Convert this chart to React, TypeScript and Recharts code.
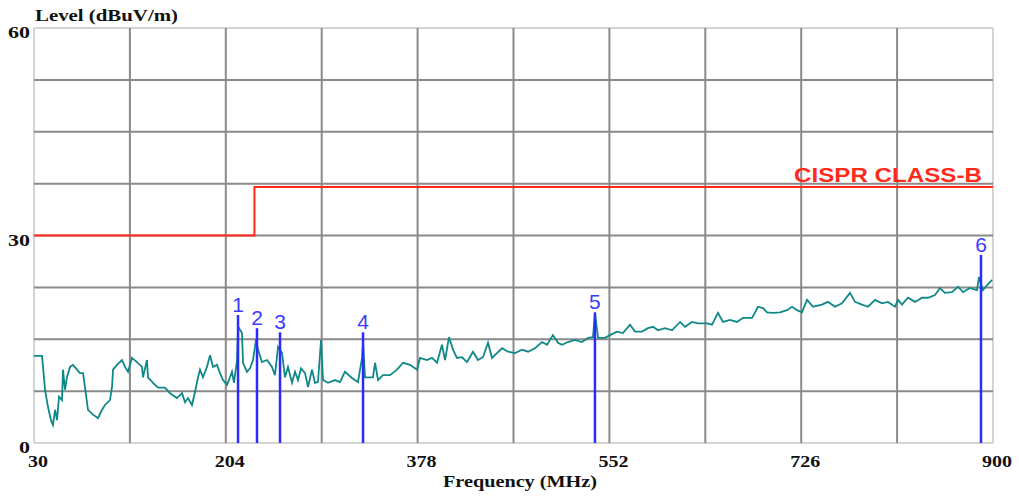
import React from "react"
import { LineChart, Line, XAxis, YAxis, ReferenceLine } from "recharts"

// measured trace (MHz, dBuV/m)
const noiseFreq = [
  30, 37.3, 40, 42.7, 45.4, 47.2, 49.1, 50.9, 52.7, 55.4, 56.3, 58.1, 59.9, 62.7, 65.4, 69, 71.7, 74.5, 76.3, 79,
  83.5, 88.1, 91.7, 94.4, 98.9, 100.8, 101.7, 105.3, 109.8, 112.6, 115.3, 118.9, 123.4, 128, 128.9, 132.5, 133.4, 138, 142.5, 148.8,
  153.4, 159.7, 164.3, 167, 169.7, 173.3, 176.1, 178.8, 180.6, 183.3, 186.9, 189.7, 192.4, 196, 198.7, 201.5, 205.1, 207.8, 209.6, 211.4,
  214.2, 215.1, 218.7, 219.6, 223.2, 226, 228.7, 231.4, 233.2, 236.8, 241.4, 245.9, 248.6, 251.4, 255, 257.7, 260.4, 264.1, 266.8, 269.5,
  272.2, 275.9, 278.6, 282.2, 284.9, 287.6, 290.4, 292.2, 296.7, 303.1, 307.6, 312.1, 318.5, 323.9, 327.6, 328.5, 330.3, 337.5, 339.4, 342.1,
  346.6, 353, 359.3, 364.8, 371.1, 377.5, 380.2, 386.5, 391.1, 395.6, 400.1, 402.9, 406.5, 410.1, 413.7, 418.3, 422.8, 428.3, 432.8, 437.3,
  441.9, 445.5, 450, 454.6, 460, 466.4, 472.7, 478.2, 484.5, 490.9, 495.4, 500.8, 505.4, 509, 514.4, 520.8, 527.1, 532.6, 537.1, 538.9,
  541.7, 548, 552.5, 558.9, 564.3, 570.7, 575.2, 581.5, 587, 591.6, 596.1, 602.4, 608.8, 616.1, 620.6, 627, 632.4, 640.5, 645.1, 650.5,
  655.1, 661.4, 667.8, 673.2, 681.4, 686.8, 691.4, 695, 700.4, 706.8, 713.1, 717.7, 722.2, 726.7, 731.3, 736.7, 744.9, 750.3, 756.7, 763,
  770.3, 774.8, 781.2, 786.6, 793, 799.3, 804.7, 811.1, 813.8, 817.4, 822.9, 829.3, 835.6, 841, 847.4, 851.9, 856.4, 862.8, 868.3, 872.8,
  879.1, 885.5, 887.3, 890.9, 894.5, 899.1,
]
const noiseLevel = [
  12.6, 12.6, 7.7, 5.2, 3.3, 2.6, 4.8, 3.3, 6.7, 6.2, 10.6, 7.7, 9.5, 11.0, 11.3, 10.6, 10.1, 10.1, 8.0, 4.8,
  4.1, 3.6, 4.8, 5.5, 6.2, 8.1, 10.6, 11.3, 12.0, 11.0, 10.3, 12.3, 11.7, 11.0, 9.5, 12.0, 9.5, 8.7, 8.0, 8.0,
  7.2, 6.5, 7.2, 5.9, 6.5, 5.5, 7.4, 9.5, 10.6, 9.5, 11.0, 12.7, 11.0, 11.3, 10.1, 9.1, 8.4, 9.5, 10.3, 8.7,
  12.0, 16.8, 15.9, 11.6, 10.3, 10.8, 12.0, 14.9, 13.5, 11.7, 12.0, 11.0, 9.8, 13.9, 13.0, 9.5, 11.0, 8.7, 10.3, 9.1,
  10.8, 10.1, 8.1, 10.6, 8.7, 8.8, 14.9, 9.1, 8.7, 9.1, 8.8, 10.3, 9.4, 8.8, 12.3, 14.5, 9.5, 9.5, 11.6, 9.1,
  9.8, 9.8, 10.6, 11.6, 11.3, 10.6, 12.3, 12.0, 12.3, 11.6, 14.2, 12.0, 15.3, 13.5, 12.3, 12.4, 11.7, 13.2, 12.0, 12.4,
  14.5, 12.3, 13.0, 13.7, 13.2, 13.0, 13.5, 13.2, 13.7, 14.6, 14.2, 15.6, 14.5, 14.2, 14.6, 14.9, 14.6, 15.2, 15.3, 18.8,
  15.2, 15.2, 15.6, 16.1, 15.9, 17.1, 16.1, 16.1, 16.6, 16.8, 16.3, 16.6, 16.3, 17.5, 16.8, 17.5, 17.3, 17.3, 17.1, 18.8,
  17.5, 17.8, 17.5, 18.1, 18.1, 19.7, 19.5, 18.9, 18.8, 18.9, 19.2, 19.7, 19.2, 18.9, 20.7, 19.7, 20.0, 20.4, 19.7, 20.2,
  21.7, 20.4, 20.0, 19.7, 20.7, 20.2, 20.4, 19.7, 20.7, 20.0, 21.0, 20.4, 21.0, 21.0, 21.4, 22.4, 21.7, 21.8, 22.6, 21.8,
  22.4, 22.1, 24.0, 22.1, 22.8, 23.6,
]

const limitFreq = [30, 230, 230, 900]
const limitLevel = [30, 30, 37, 37]

const markerFreq = [215.1, 232.3, 253.2, 328.5, 538.9, 889.1]
const markerLevel = [18.5, 16.6, 16.0, 16.0, 18.9, 27.2]

const xTicks = [30, 117, 204, 291, 378, 465, 552, 639, 726, 813, 900]
const xLabels = [30, 204, 378, 552, 726, 900]
const yTicks = [0, 7.5, 15, 22.5, 30, 37.5, 45, 52.5, 60]
const yLabels = [0, 30, 60]

const noiseData = noiseFreq.map((f, i) => ({ f, v: noiseLevel[i] }))
const limitData = limitFreq.map((f, i) => ({ f, v: limitLevel[i] }))

const serif = "'Liberation Serif', 'Times New Roman', serif"
const sans = "'Liberation Sans', Arial, sans-serif"

function XTick({ x, y, payload }: any) {
  if (!xLabels.includes(payload.value)) return <g />
  const s = String(payload.value)
  return (
    <text x={x + 4} y={y + 24} textAnchor="middle" fontFamily={serif} fontWeight="bold" fontSize={16}
      fill="#111" textLength={s.length * 10} lengthAdjust="spacingAndGlyphs">{s}</text>
  )
}

function YTick({ x, y, payload }: any) {
  if (!yLabels.includes(payload.value)) return <g />
  const s = String(payload.value)
  return (
    <text x={x - 4} y={y + 10} textAnchor="end" fontFamily={serif} fontWeight="bold" fontSize={16}
      fill="#111" textLength={s.length * 11} lengthAdjust="spacingAndGlyphs">{s}</text>
  )
}

export default function App() {
  return (
    <div style={{ width: 1019, height: 497, background: "#fff" }}>
      <style>{`body{margin:0}`}</style>
      <LineChart width={1019} height={497} margin={{ top: 28, right: 26, left: 0, bottom: 0 }}>
        <XAxis
          dataKey="f"
          type="number"
          domain={[30, 900]}
          ticks={xTicks}
          interval={0}
          tick={<XTick />}
          tickLine={false}
          axisLine={false}
          tickSize={0}
          tickMargin={0}
          height={54}
          allowDataOverflow
          label={{
            content: () => (
              <text x={520} y={487} textAnchor="middle" fontFamily={serif} fontWeight="bold" fontSize={16}
                fill="#111" textLength={154} lengthAdjust="spacingAndGlyphs">Frequency (MHz)</text>
            ),
          }}
        />
        <YAxis
          dataKey="v"
          type="number"
          domain={[0, 60]}
          ticks={yTicks}
          interval={0}
          tick={<YTick />}
          tickLine={false}
          axisLine={false}
          tickSize={0}
          tickMargin={0}
          width={34}
          allowDataOverflow
          label={{
            content: () => (
              <text x={35} y={21} fontFamily={serif} fontWeight="bold" fontSize={16}
                fill="#111" textLength={143} lengthAdjust="spacingAndGlyphs">Level (dBuV/m)</text>
            ),
          }}
        />
        {[0, 60].map((v) => (
          <ReferenceLine key={"by" + v} y={v} stroke="#d4d4d4" strokeWidth={2} />
        ))}
        {[30, 900].map((v) => (
          <ReferenceLine key={"bx" + v} x={v} stroke="#d4d4d4" strokeWidth={2} />
        ))}
        {yTicks.slice(1, -1).map((v) => (
          <ReferenceLine key={"gy" + v} y={v} stroke="#8a8a8a" strokeWidth={2} />
        ))}
        {xTicks.slice(1, -1).map((v) => (
          <ReferenceLine key={"gx" + v} x={v} stroke="#8a8a8a" strokeWidth={2} />
        ))}
        <Line
          data={limitData}
          dataKey="v"
          type="linear"
          stroke="#ff2a1a"
          strokeWidth={2}
          dot={false}
          isAnimationActive={false}
          label={(p: any) =>
            p.index === 3 ? (
              <text key="lim" x={p.x - 11} y={p.y - 5} textAnchor="end" fontFamily={sans} fontWeight="bold"
                fontSize={20} fill="#ff2a1a" textLength={188} lengthAdjust="spacingAndGlyphs">CISPR CLASS-B</text>
            ) : null
          }
        />
        <Line
          data={noiseData}
          dataKey="v"
          type="linear"
          stroke="#108888"
          strokeWidth={1.8}
          dot={false}
          isAnimationActive={false}
        />
        {markerFreq.map((f, i) => (
          <Line
            key={"m" + i}
            data={[{ f, v: 0 }, { f, v: markerLevel[i] }]}
            dataKey="v"
            type="linear"
            stroke="#2b2bff"
            strokeWidth={2.5}
            dot={false}
            isAnimationActive={false}
            label={(p: any) =>
              p.index === 1 ? (
                <text key={"ml" + i} x={p.x} y={p.y - 3} textAnchor="middle" fontFamily={sans}
                  fontSize={21} fill="#3a3aff">{i + 1}</text>
              ) : null
            }
          />
        ))}
      </LineChart>
    </div>
  )
}
